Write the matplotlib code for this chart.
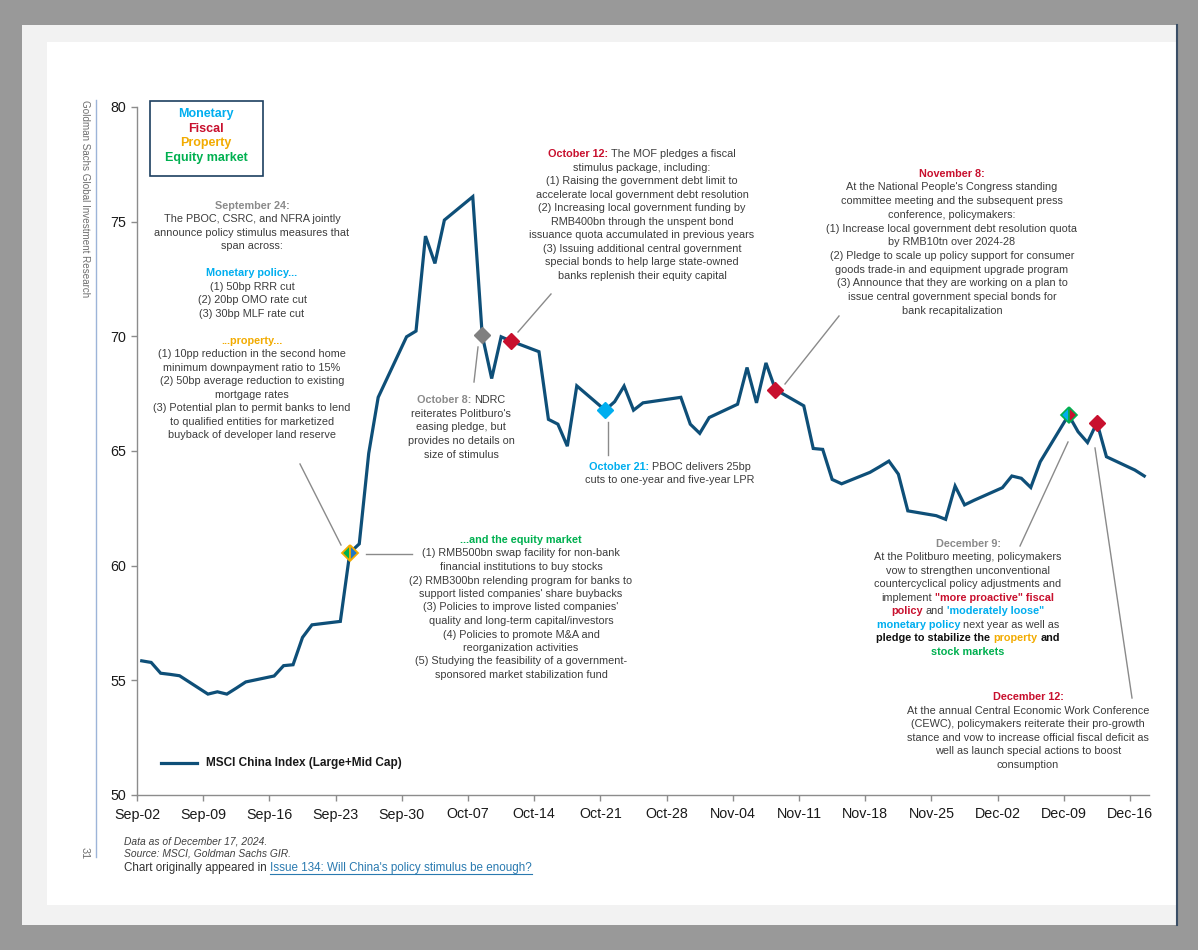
import numpy as np
import matplotlib
matplotlib.use('Agg')
import matplotlib.pyplot as plt
import matplotlib.dates as mdates
from matplotlib.lines import Line2D
from matplotlib.patches import Rectangle

W, H = 1198, 950
FONT = ['Liberation Sans', 'DejaVu Sans']
plt.rcParams['font.family'] = FONT

# ---------------- data ----------------
dates = ['2024-09-02', '2024-09-03', '2024-09-04', '2024-09-05', '2024-09-06',
         '2024-09-09', '2024-09-10', '2024-09-11', '2024-09-12', '2024-09-13',
         '2024-09-16', '2024-09-17', '2024-09-18', '2024-09-19', '2024-09-20',
         '2024-09-23', '2024-09-24', '2024-09-25', '2024-09-26', '2024-09-27',
         '2024-09-30', '2024-10-01', '2024-10-02', '2024-10-03', '2024-10-04',
         '2024-10-07', '2024-10-08', '2024-10-09', '2024-10-10', '2024-10-11',
         '2024-10-14', '2024-10-15', '2024-10-16', '2024-10-17', '2024-10-18',
         '2024-10-21', '2024-10-22', '2024-10-23', '2024-10-24', '2024-10-25',
         '2024-10-28', '2024-10-29', '2024-10-30', '2024-10-31', '2024-11-01',
         '2024-11-04', '2024-11-05', '2024-11-06', '2024-11-07', '2024-11-08',
         '2024-11-11', '2024-11-12', '2024-11-13', '2024-11-14', '2024-11-15',
         '2024-11-18', '2024-11-19', '2024-11-20', '2024-11-21', '2024-11-22',
         '2024-11-25', '2024-11-26', '2024-11-27', '2024-11-28', '2024-11-29',
         '2024-12-02', '2024-12-03', '2024-12-04', '2024-12-05', '2024-12-06',
         '2024-12-09', '2024-12-10', '2024-12-11', '2024-12-12', '2024-12-13',
         '2024-12-16', '2024-12-17']
msci = [55.85, 55.78, 55.31, 55.26, 55.20,
        54.40, 54.50, 54.40, 54.66, 54.93,
        55.19, 55.64, 55.68, 56.87, 57.42,
        57.57, 60.56, 60.95, 64.90, 67.34,
        69.98, 70.23, 74.37, 73.18, 75.07,
        76.09, 70.05, 68.16, 69.98, 69.80,
        69.33, 66.38, 66.17, 65.21, 67.84,
        66.78, 67.15, 67.83, 66.78, 67.10,
        67.28, 67.34, 66.17, 65.77, 66.46,
        67.04, 68.64, 67.10, 68.84, 67.68,
        66.97, 65.11, 65.07, 63.76, 63.57,
        64.07, 64.31, 64.56, 63.99, 62.39,
        62.18, 62.02, 63.47, 62.65, 62.85,
        63.40, 63.91, 63.81, 63.41, 64.53,
        66.57, 65.84, 65.37, 66.24, 64.75,
        64.17, 63.91]

event_dates = ['2024-09-24', '2024-10-08', '2024-10-11', '2024-10-21',
               '2024-11-08', '2024-12-09', '2024-12-12']
series_label = 'MSCI China Index (Large+Mid Cap)'
tick_dates = ['2024-09-02', '2024-09-09', '2024-09-16', '2024-09-23', '2024-09-30',
              '2024-10-07', '2024-10-14', '2024-10-21', '2024-10-28', '2024-11-04',
              '2024-11-11', '2024-11-18', '2024-11-25', '2024-12-02', '2024-12-09',
              '2024-12-16']
y_ticks = [50, 55, 60, 65, 70, 75, 80]

# ---------------- colours ----------------
LINE = '#0e4f78'
BLUE = '#00aeef'
RED = '#c8102e'
ORANGE = '#f2ab00'
GREEN = '#00b050'
GRAYH = '#8a8a8a'
TXT = '#3c3c3c'
AXC = '#8c8c8c'

fig = plt.figure(figsize=(W / 100, H / 100), dpi=100)
fig.patch.set_facecolor('#999999')
renderer = fig.canvas.get_renderer()


def fx(x):
    return x / W


def fy(y):
    return 1 - y / H


def frect(x0, y0, x1, y1, **kw):
    r = Rectangle((fx(x0), fy(y1)), (x1 - x0) / W, (y1 - y0) / H,
                  transform=fig.transFigure, **kw)
    fig.patches.append(r)
    return r


def fline(x0, y0, x1, y1, **kw):
    l = Line2D([fx(x0), fx(x1)], [fy(y0), fy(y1)], transform=fig.transFigure, **kw)
    fig.lines.append(l)
    return l


# page background
frect(22, 25, 1178, 925, facecolor='#f2f2f2', edgecolor='none', zorder=-20)
frect(47, 42, 1176, 905, facecolor='white', edgecolor='none', zorder=-19)
fline(1177, 25, 1177, 925, color='#3a4e66', lw=1.5, zorder=-18)

# ---------------- axes ----------------
ax = fig.add_axes([fx(137), fy(795), (1149 - 137) / W, (795 - 107) / H])
ax.set_facecolor('none')
x = np.array(dates, dtype='datetime64[D]').astype('datetime64[h]') + np.timedelta64(12, 'h')
y = np.array(msci)
xd = x.astype('datetime64[ms]').astype(object)
ax.plot(xd, y, color=LINE, lw=2.3, solid_joinstyle='miter', zorder=3)

ev = np.array(event_dates, dtype='datetime64[D]')
dd = np.array(dates, dtype='datetime64[D]')
ev_idx = [int(np.where(dd == e)[0][0]) for e in ev]
ev_x = [xd[i] for i in ev_idx]
ev_y = [y[i] for i in ev_idx]
ms = 8
# Sep 24: monetary/property/equity
ax.plot([ev_x[0]], [ev_y[0]], marker='D', ms=ms, mfc=GREEN, mfcalt='#1f78c8',
        fillstyle='left', mec=ORANGE, mew=1.3, zorder=5)
ax.plot([ev_x[1]], [ev_y[1]], marker='D', ms=ms, mfc='#808080', mec='#808080', zorder=5)
ax.plot([ev_x[2]], [ev_y[2]], marker='D', ms=ms, mfc=RED, mec=RED, zorder=5)
ax.plot([ev_x[3]], [ev_y[3]], marker='D', ms=ms, mfc=BLUE, mec=BLUE, zorder=5)
ax.plot([ev_x[4]], [ev_y[4]], marker='D', ms=ms, mfc=RED, mec=RED, zorder=5)
ax.plot([ev_x[5]], [ev_y[5]], marker='D', ms=ms, mfc=BLUE, mfcalt=RED,
        fillstyle='left', mec=GREEN, mew=1.2, zorder=5)
ax.plot([ev_x[6]], [ev_y[6]], marker='D', ms=ms, mfc=RED, mec=RED, zorder=5)

t0 = np.datetime64('2024-09-02T00:00').astype('datetime64[ms]').astype(object)
t1 = np.datetime64('2024-12-18T00:00').astype('datetime64[ms]').astype(object)
ax.set_xlim(t0, t1)
ax.set_ylim(50, 80)
ax.set_yticks(y_ticks)
tk = [np.datetime64(t + 'T00:00').astype('datetime64[ms]').astype(object) for t in tick_dates]
ax.set_xticks(tk)
ax.xaxis.set_major_formatter(mdates.DateFormatter('%b-%d'))
for s in ['top', 'right']:
    ax.spines[s].set_visible(False)
for s in ['left', 'bottom']:
    ax.spines[s].set_color(AXC)
    ax.spines[s].set_linewidth(1.0)
ax.tick_params(axis='both', direction='out', length=4, width=1, color=AXC,
               labelsize=10.3, labelcolor='#1a1a1a')
ax.tick_params(axis='x', pad=5)
ax.tick_params(axis='y', pad=4)

# series legend (manual)
fline(161, 763, 197, 763, color=LINE, lw=2.3)
fig.text(fx(206), fy(763), series_label, fontsize=8.5, fontweight='bold',
         color='#1a1a1a', va='center', ha='left')

# ---------------- rich text helper ----------------
def rich_line(cx, yy, segs, size=7.8):
    texts = []
    for (s, color, bold) in segs:
        t = fig.text(0, fy(yy), s, color=color, fontsize=size,
                     fontweight='bold' if bold else 'normal', va='center', ha='left')
        texts.append(t)
    if not texts:
        return
    widths = [t.get_window_extent(renderer).width for t in texts]
    space = 0.278 * size * 100 / 72
    total = sum(widths) + space * (len(texts) - 1)
    x0 = cx - total / 2
    for t, w in zip(texts, widths):
        t.set_x(fx(x0))
        x0 += w + space


def block(cx, y0, dy, lines, size=7.8):
    for i, segs in enumerate(lines):
        rich_line(cx, y0 + i * dy, segs, size)


def N(s):
    return (s, TXT, False)


# legend box of categories
frect(150, 101, 263, 176, facecolor='white', edgecolor='#1c3f60', lw=1.2, zorder=2)
for yy, s, c in [(114, 'Monetary', BLUE), (128.5, 'Fiscal', RED),
                 (143, 'Property', ORANGE), (157.5, 'Equity market', GREEN)]:
    fig.text(fx(206), fy(yy), s, color=c, fontsize=9, fontweight='bold',
             ha='center', va='center', zorder=3)

block(252, 205.7, 13.5, [
    [("September 24:", GRAYH, True)],
    [N("The PBOC, CSRC, and NFRA jointly")],
    [N("announce policy stimulus measures that")],
    [N("span across:")],
    [],
    [("Monetary policy...", BLUE, True)],
    [N("(1) 50bp RRR cut")],
    [N("(2) 20bp OMO rate cut")],
    [N("(3) 30bp MLF rate cut")],
    [],
    [("...property...", ORANGE, True)],
    [N("(1) 10pp reduction in the second home")],
    [N("minimum downpayment ratio to 15%")],
    [N("(2) 50bp average reduction to existing")],
    [N("mortgage rates")],
    [N("(3) Potential plan to permit banks to lend")],
    [N("to qualified entities for marketized")],
    [N("buyback of developer land reserve")],
])

block(521, 540, 13.5, [
    [("...and the equity market", GREEN, True)],
    [N("(1) RMB500bn swap facility for non-bank")],
    [N("financial institutions to buy stocks")],
    [N("(2) RMB300bn relending program for banks to")],
    [N("support listed companies' share buybacks")],
    [N("(3) Policies to improve listed companies'")],
    [N("quality and long-term capital/investors")],
    [N("(4) Policies to promote M&A and")],
    [N("reorganization activities")],
    [N("(5) Studying the feasibility of a government-")],
    [N("sponsored market stabilization fund")],
])

block(461, 400, 13.7, [
    [("October 8:", GRAYH, True), N("NDRC")],
    [N("reiterates Politburo's")],
    [N("easing pledge, but")],
    [N("provides no details on")],
    [N("size of stimulus")],
])

block(642, 154, 13.52, [
    [("October 12:", RED, True), N("The MOF pledges a fiscal")],
    [N("stimulus package, including:")],
    [N("(1) Raising the government debt limit to")],
    [N("accelerate local government debt resolution")],
    [N("(2) Increasing local government funding by")],
    [N("RMB400bn through the unspent bond")],
    [N("issuance quota accumulated in previous years")],
    [N("(3) Issuing additional central government")],
    [N("special bonds to help large state-owned")],
    [N("banks replenish their equity capital")],
])

block(670, 466.5, 13.5, [
    [("October 21:", BLUE, True), N("PBOC delivers 25bp")],
    [N("cuts to one-year and five-year LPR")],
])

block(952, 173.7, 13.7, [
    [("November 8:", RED, True)],
    [N("At the National People's Congress standing")],
    [N("committee meeting and the subsequent press")],
    [N("conference, policymakers:")],
    [N("(1) Increase local government debt resolution quota")],
    [N("by RMB10tn over 2024-28")],
    [N("(2) Pledge to scale up policy support for consumer")],
    [N("goods trade-in and equipment upgrade program")],
    [N("(3) Announce that they are working on a plan to")],
    [N("issue central government special bonds for")],
    [N("bank recapitalization")],
])

block(968, 544, 13.45, [
    [("December 9:", GRAYH, True)],
    [N("At the Politburo meeting, policymakers")],
    [N("vow to strengthen unconventional")],
    [N("countercyclical policy adjustments and")],
    [N("implement"), ('"more proactive" fiscal', RED, True)],
    [("policy", RED, True), N("and"), ("'moderately loose\"", BLUE, True)],
    [("monetary policy", BLUE, True), N("next year as well as")],
    [("pledge to stabilize the", '#111111', True), ("property", ORANGE, True),
     ("and", '#111111', True)],
    [("stock markets", GREEN, True)],
])

block(1028, 697.3, 13.5, [
    [("December 12:", RED, True)],
    [N("At the annual Central Economic Work Conference")],
    [N("(CEWC), policymakers reiterate their pro-growth")],
    [N("stance and vow to increase official fiscal deficit as")],
    [N("well as launch special actions to boost")],
    [N("consumption")],
])

# leader lines
LC = '#8a8a8a'
for (a, b, c, d) in [(300, 464, 341, 545), (366, 554, 412, 554), (478, 347, 474, 382),
                     (518, 332, 551, 294), (608, 422, 608, 455), (785, 384, 839, 316),
                     (1068, 442, 1020, 546), (1095, 448, 1132, 698)]:
    fline(a, b, c, d, color=LC, lw=1.0)

# side label and page furniture
fline(96, 100, 96, 857, color='#9db4d8', lw=1.0)
fig.text(fx(85), fy(100), 'Goldman Sachs Global Investment Research', rotation=270,
         fontsize=7.1, color='#6e6e6e', ha='center', va='top')
fig.text(fx(85), fy(853), '31', rotation=270, fontsize=7.8, color='#6e6e6e',
         ha='center', va='center')

fig.text(fx(124), fy(841), 'Data as of December 17, 2024.', style='italic',
         fontsize=7.4, color='#404040', va='center')
fig.text(fx(124), fy(853.5), 'Source: MSCI, Goldman Sachs GIR.', style='italic',
         fontsize=7.4, color='#404040', va='center')
t_a = fig.text(fx(124), fy(868), 'Chart originally appeared in ', fontsize=8.4,
               color='#333333', va='center')
wa = t_a.get_window_extent(renderer).width
link = "Issue 134: Will China's policy stimulus be enough?"
t_b = fig.text(fx(124 + wa), fy(868), link, fontsize=8.4, color='#2a7ab0', va='center')
wb = t_b.get_window_extent(renderer).width
fline(124 + wa, 874, 124 + wa + wb, 874, color='#2a7ab0', lw=0.8)

fig.savefig('out.png', dpi=100, facecolor=fig.get_facecolor())
